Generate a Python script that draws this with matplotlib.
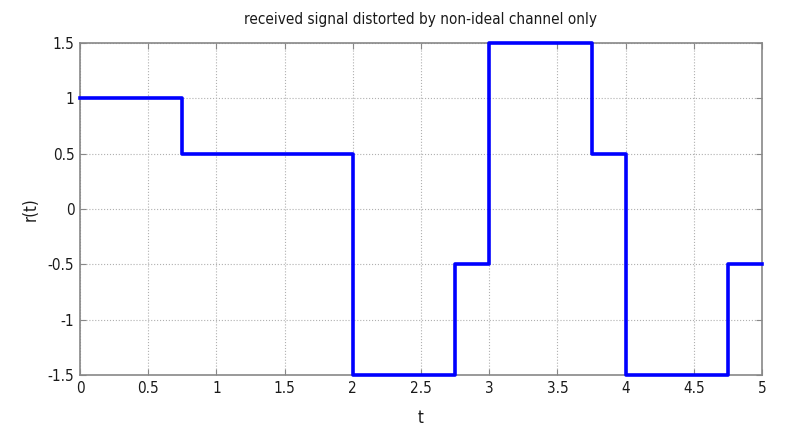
import matplotlib
matplotlib.use("Agg")
import matplotlib.pyplot as plt

# step edges and levels of r(t)
t_edges = [0, 0.75, 2.0, 2.75, 3.0, 3.75, 4.0, 4.75, 5.0]
r_levels = [1, 0.5, -1.5, -0.5, 1.5, 0.5, -1.5, -0.5, -0.5]

xticks = [0, 0.5, 1, 1.5, 2, 2.5, 3, 3.5, 4, 4.5, 5]
yticks = [-1.5, -1, -0.5, 0, 0.5, 1, 1.5]

plt.rcParams['font.family'] = ['DejaVu Sans']
plt.rcParams['font.stretch'] = 'condensed'
plt.rcParams['font.size'] = 11

fig = plt.figure(figsize=(7.85, 4.32), dpi=100)
ax = fig.add_axes([80/785, 1 - 375/432, (762-80)/785, (375-43)/432])

ax.plot(t_edges, r_levels, drawstyle='steps-post', color='#0000ff', lw=2.6, clip_on=False, zorder=3)

ax.set_xlim(0, 5)
ax.set_ylim(-1.5, 1.5)
ax.set_xticks(xticks)
ax.set_yticks(yticks)
ax.set_xticklabels(['%g' % v for v in xticks])
ax.set_yticklabels(['%g' % v for v in yticks])
ax.grid(True, linestyle=':', color='#b0b0b0', lw=0.8)
ax.tick_params(direction='in', length=4, color='#888888', labelcolor='#1a1a1a', pad=4,
               top=True, right=True)
for s in ax.spines.values():
    s.set_color('#888888')
    s.set_linewidth(1.2)

ax.set_title('received signal distorted by non-ideal channel only', fontsize=11, color='#1a1a1a', pad=14)
ax.set_xlabel('t', fontsize=12, color='#1a1a1a', labelpad=10)
ax.set_ylabel('r(t)', fontsize=12, color='#1a1a1a', labelpad=6)

fig.savefig('out.png', dpi=100)
